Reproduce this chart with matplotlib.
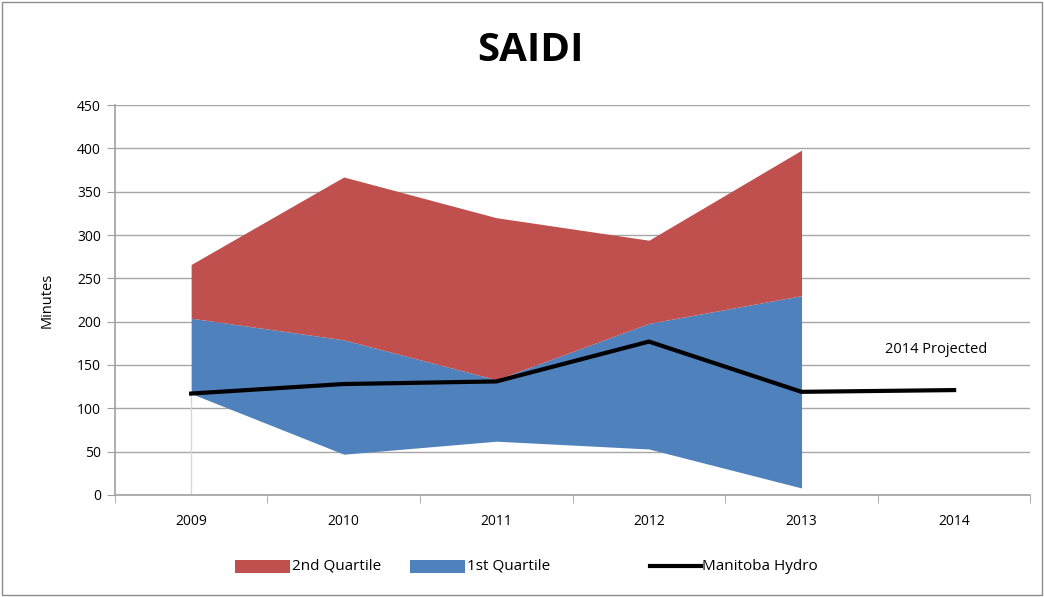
import matplotlib
matplotlib.use("Agg")
import matplotlib.pyplot as plt
from matplotlib.patches import Rectangle
from matplotlib.lines import Line2D

plt.rcParams['font.family'] = ['Open Sans', 'DejaVu Sans']

years_area = [2009, 2010, 2011, 2012, 2013]
q1_low = [117, 47, 62, 53, 8]
q1_high = [204, 179, 133, 198, 230]
q2_high = [266, 367, 320, 294, 398]
mh_years = [2009, 2010, 2011, 2012, 2013, 2014]
mh_values = [117, 128, 131, 177, 119, 121]
x_labels = ['2009', '2010', '2011', '2012', '2013', '2014']
y_ticks = [0, 50, 100, 150, 200, 250, 300, 350, 400, 450]
legend_labels = ['2nd Quartile', '1st Quartile', 'Manitoba Hydro']

W, H = 1044, 597
fig = plt.figure(figsize=(W / 100, H / 100), dpi=100)
fig.patches.append(Rectangle((0.002, 0.003), 0.996, 0.994, transform=fig.transFigure,
                             fill=False, edgecolor='#8c8c8c', linewidth=1.0))
ax = fig.add_axes([0.110, 0.171, 0.877, 0.653])

red = '#c0504d'
blue = '#4f81bd'

ax.fill_between(years_area, q1_low, q1_high, color=blue, linewidth=0, zorder=2)
ax.fill_between(years_area, q1_high, q2_high, color=red, linewidth=0, zorder=2)
ax.plot([years_area[0], years_area[0]], [0, q1_low[0]], color='#d0d8e8', linewidth=1.0, zorder=2)
ax.plot(mh_years, mh_values, color='black', linewidth=3, zorder=3, solid_joinstyle='miter')

ax.text(2013.88, 168, '2014 Projected', ha='center', va='center', fontsize=10.5)

ax.set_xlim(2008.5, 2014.5)
ax.set_ylim(0, 450)
ax.set_yticks(y_ticks)
ax.set_yticklabels([str(v) for v in y_ticks], fontsize=10)
ax.set_xticks(mh_years)
ax.set_xticklabels(x_labels, fontsize=10)
ax.set_xticks([2008.5 + i for i in range(7)], minor=True)
ax.tick_params(axis='x', which='major', length=0, pad=14)
ax.tick_params(axis='x', which='minor', length=6, color='#a0a0a0', direction='out')
ax.tick_params(axis='y', length=6, color='#a0a0a0', direction='out', pad=4)
ax.grid(axis='y', color='#a6a6a6', linewidth=1.0, zorder=0)
ax.set_axisbelow(True)
for s in ['top', 'right']:
    ax.spines[s].set_visible(False)
for s in ['left', 'bottom']:
    ax.spines[s].set_color('#a0a0a0')
    ax.spines[s].set_linewidth(1.2)
ax.set_ylabel('Minutes', fontsize=10.5, labelpad=16)

fig.text(0.508, 0.915, 'SAIDI', ha='center', va='center', fontsize=29, fontweight='bold')

# legend drawn manually in figure pixel coordinates
ly = 1 - 566 / H
ph = 13 / H
fig.patches.append(Rectangle((235 / W, ly - ph / 2), 55 / W, ph, transform=fig.transFigure,
                             facecolor=red, edgecolor='none'))
fig.text(292 / W, ly, legend_labels[0], ha='left', va='center', fontsize=11)
fig.patches.append(Rectangle((410 / W, ly - ph / 2), 55 / W, ph, transform=fig.transFigure,
                             facecolor=blue, edgecolor='none'))
fig.text(467 / W, ly, legend_labels[1], ha='left', va='center', fontsize=11)
fig.lines.append(Line2D([650 / W, 701 / W], [ly, ly], transform=fig.transFigure,
                        color='black', linewidth=3))
fig.text(702 / W, ly, legend_labels[2], ha='left', va='center', fontsize=11)

fig.savefig('out.png', dpi=100)
